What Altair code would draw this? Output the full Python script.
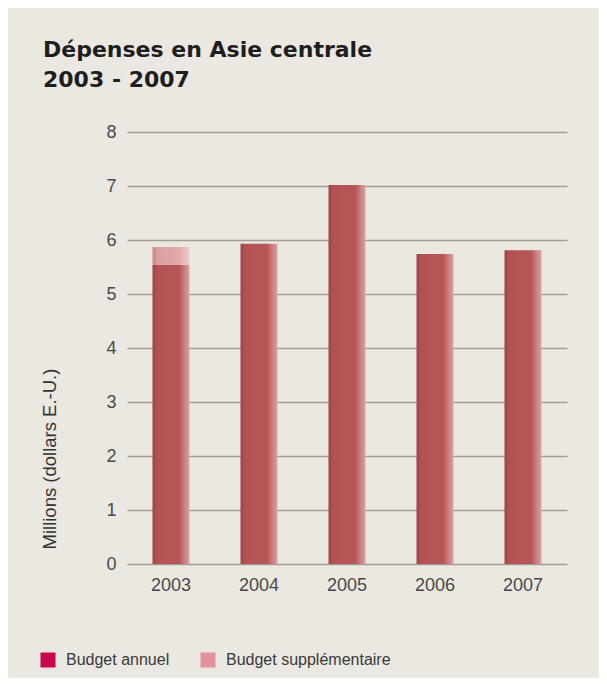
import altair as alt
import pandas as pd

years = ["2003", "2004", "2005", "2006", "2007"]
annual = [5.54, 5.93, 7.02, 5.74, 5.81]
supplementary = [0.33, 0.0, 0.0, 0.0, 0.0]
series = ["Budget annuel", "Budget supplémentaire"]
legend_colors = ["#c8074f", "#e0939c"]
y_ticks = [0, 1, 2, 3, 4, 5, 6, 7, 8]

df = pd.DataFrame({"annee": years, "annuel": annual, "supp": supplementary})
df["total"] = df["annuel"] + df["supp"]
df_supp = df[df["supp"] > 0]

legend_df = pd.DataFrame({"legende": series, "annee": [years[0]] * 2, "valeur": [0, 0]})

x_enc = alt.X(
    "annee:N",
    sort=years,
    scale=alt.Scale(paddingInner=0.58, paddingOuter=0.29),
    axis=alt.Axis(
        title=None, labelAngle=0, domain=False, ticks=False, tickSize=0,
        labelPadding=12, labelFontSize=18, labelColor="#4a4a4a",
        labelFont="Liberation Sans", grid=False,
    ),
)

y_scale = alt.Scale(domain=[0, 8], nice=False)

annual_fill = alt.Gradient(
    gradient="linear", x1=0, x2=1, y1=0, y2=0,
    stops=[
        alt.GradientStop(offset=0, color="#9a4345"),
        alt.GradientStop(offset=0.12, color="#b35254"),
        alt.GradientStop(offset=0.72, color="#b85557"),
        alt.GradientStop(offset=1, color="#dca4a4"),
    ],
)
supp_fill = alt.Gradient(
    gradient="linear", x1=0, x2=1, y1=0, y2=0,
    stops=[
        alt.GradientStop(offset=0, color="#c98587"),
        alt.GradientStop(offset=0.15, color="#dca0a0"),
        alt.GradientStop(offset=0.72, color="#e2a9a9"),
        alt.GradientStop(offset=1, color="#f0cccc"),
    ],
)

bars = alt.Chart(df).mark_bar(fill=annual_fill).encode(
    x=x_enc,
    y=alt.Y(
        "annuel:Q",
        scale=y_scale,
        axis=alt.Axis(
            values=y_ticks, title="Millions (dollars E.-U.)",
            domain=False, ticks=False, tickSize=0, labelPadding=11,
            labelFontSize=18, labelColor="#4a4a4a", labelFont="Liberation Sans",
            gridColor="#a59e97", gridWidth=1.6,
            titleFont="Liberation Sans", titleFontSize=18.5, titleFontWeight="normal",
            titleColor="#333333", titleAngle=-90, titleAlign="left",
            titleBaseline="middle", titleX=-78, titleY=417,
        ),
    ),
)

supp_bars = alt.Chart(df_supp).mark_bar(fill=supp_fill).encode(
    x=alt.X("annee:N", sort=years),
    y=alt.Y("annuel:Q", scale=y_scale),
    y2="total:Q",
)

legend_layer = alt.Chart(legend_df).mark_square(opacity=0, size=1).encode(
    x=alt.X("annee:N", sort=years),
    y=alt.Y("valeur:Q"),
    fill=alt.Fill(
        "legende:N",
        scale=alt.Scale(domain=series, range=legend_colors),
        legend=alt.Legend(
            title=None, orient="none", direction="horizontal",
            legendX=-87, legendY=520,
            symbolType="square", symbolSize=225, symbolOpacity=1,
            symbolStrokeWidth=0, columnPadding=30, labelOffset=10,
            labelLimit=400,
            labelFont="Liberation Sans", labelFontSize=16, labelColor="#3a3a3a",
        ),
    ),
)

chart = alt.layer(bars, supp_bars, legend_layer).properties(
    width=440,
    height=432,
    autosize=alt.AutoSizeParams(type="none"),
    padding={"left": 119, "top": 124, "right": 32, "bottom": 114},
    background="#ebe7e1",
    title=alt.TitleParams(
        text=["Dépenses en Asie centrale", "2003 - 2007"],
        anchor="start", frame="group", dx=-84, offset=31, fontSize=22,
        font="DejaVu Sans", fontWeight="bold", color="#1e1e1e", lineHeight=30,
    ),
).configure_view(stroke=None)

chart.save("out.html", embed_options={"renderer": "svg", "actions": False})
